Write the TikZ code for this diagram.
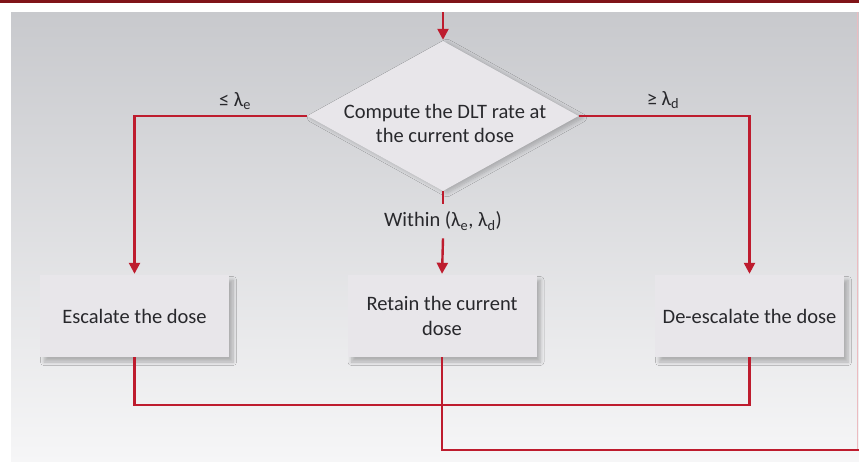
\documentclass[tikz,border=0pt]{standalone}
\usepackage{fontspec}
\setmainfont{Carlito}
\usepackage{xcolor}
\usepackage{tikz}
\usetikzlibrary{positioning,calc,shapes.geometric,arrows.meta,shadows,shadows.blur}
\definecolor{flowred}{RGB}{190,28,46}
\definecolor{barred}{RGB}{128,20,24}
\definecolor{paneltop}{RGB}{200,201,205}
\definecolor{panelbottom}{RGB}{246,246,247}
\definecolor{boxfill}{RGB}{232,230,234}
\definecolor{textgray}{RGB}{40,40,44}

\begin{document}
\begin{tikzpicture}[x=1pt,y=-1pt,
					decision/.style={
						shape=diamond, fill=boxfill, inner sep=0pt,
						minimum width=271pt, minimum height=150pt,
						blur shadow={shadow xshift=4pt, shadow yshift=-2pt, shadow blur radius=4pt, shadow blur steps=8, shadow opacity=22}
					},
					action/.style={
						rectangle, fill=boxfill, text=textgray, align=center,
						minimum width=189pt, minimum height=82pt,
						font=\fontsize{20.5}{25}\selectfont,
						blur shadow={shadow xshift=4pt, shadow yshift=-5pt, shadow blur radius=3.5pt, shadow blur steps=8, shadow opacity=25}
					},
					txt/.style={text=textgray, align=center, font=\fontsize{20.5}{24}\selectfont},
					flow/.style={draw=flowred, line width=2.4pt},
					tip/.style={-{Triangle[width=11pt,length=11pt]}, shorten >=1pt}
					]
					\useasboundingbox (0,0) rectangle (859,461);
					% panel and top rule
					\fill[white] (0,0) rectangle (859,461);
					\shade[top color=paneltop, bottom color=panelbottom] (11,12) rectangle (859,461);
					\draw[flowred!30, line width=1pt] (857.5,12) -- (857.5,450);
					\fill[barred] (0,0) rectangle (859,3);
					
					% decision
					\node[decision] (dec) at (443,116) {};
					\node[txt] (dectext) at (445,123) {Compute the DLT rate at\\the current dose};
					
					% the three actions
					\node[action] (esc)  at (134.5,316) {Escalate the dose};
					\node[action] (ret)  at (442,316)   {Retain the current\\dose};
					\node[action] (desc) at (749.5,316) {De-escalate the dose};
					
					% conditions
					\node[txt] (le) at (235,101) {≤ λ\textsubscript{e}};
					\node[txt] (ge) at (663,100) {≥ λ\textsubscript{d}};
					\node[txt, inner ysep=8pt] (within) at (443,221) {Within (λ\textsubscript{e}, λ\textsubscript{d})};
					
					\coordinate (start) at (443,12);
					\coordinate (loopend) at (859,450);
					
					% connectors
					\draw[flow,tip] (start) -- (dec.north);
					\draw[flow,tip] (dec.west) -| (esc.north);
					\draw[flow,tip] (dec.east) -| (desc.north);
					\draw[flow] (dec.south) -- (within.north);
					\draw[flow,tip] (within.south) -- (ret.north);
					\draw[flow] (esc.south) -- ++(0,48) -| (desc.south);
					\draw[flow] (ret.south) |- (loopend);
				\end{tikzpicture}
\end{document}
